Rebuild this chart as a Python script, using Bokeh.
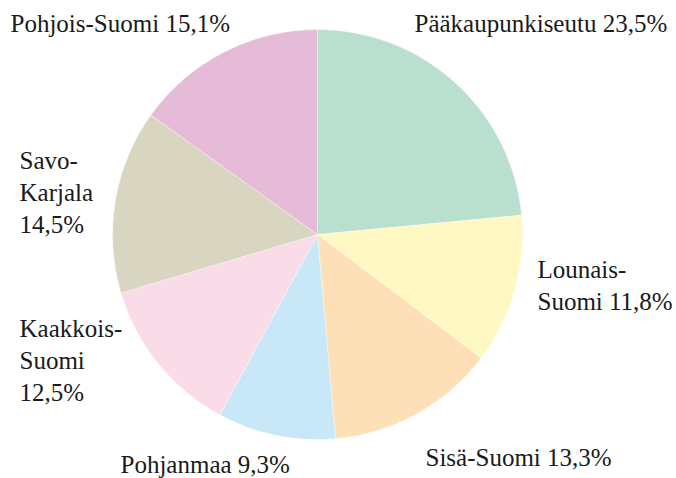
import math
from bokeh.plotting import figure
from bokeh.models import Range1d, ColumnDataSource
from bokeh.core.properties import value
from bokeh.embed import file_html
from bokeh.resources import INLINE

# ---- data ----
regions = ["Pääkaupunkiseutu", "Lounais-Suomi", "Sisä-Suomi", "Pohjanmaa",
           "Kaakkois-Suomi", "Savo-Karjala", "Pohjois-Suomi"]
shares = [23.5, 11.8, 13.3, 9.3, 12.5, 14.5, 15.1]
colors = ["#b9e0ce", "#fff8c3", "#fde0b7", "#c8e8f8", "#fadce8", "#d8d6c1", "#e5bbd7"]
# line-break style of each label: 0 one line, 1 break after hyphen, 2 break after hyphen and before number
label_breaks = [0, 1, 0, 0, 2, 2, 0]

# ---- layout (screen px of page) ----
W, H = 676, 478
OFF = 0
CX, CY = 317, 234          # pie centre on the page
R = 205
# label anchor: left x, first baseline y (page px), line step
label_pos = [(414, 33), (537, 279), (425, 467), (120, 474),
             (19, 338), (19, 170), (10, 33)]
BASE_FIX = 10              # renderer draws alphabetic baseline lower; compensate
LINE_STEP = 32
FONT = "Liberation Serif"
FONT_SIZE = "25px"

p = figure(width=W, height=H, output_backend="svg", toolbar_location=None,
           x_range=Range1d(OFF - CX, OFF + W - CX),
           y_range=Range1d(CY - (OFF + H), CY - OFF),
           min_border=0)
p.axis.visible = False
p.grid.visible = False
p.outline_line_color = None
p.background_fill_color = "white"
p.border_fill_color = "white"

total = sum(shares)
starts, ends = [], []
cum = 0.0
for s in shares:
    starts.append(math.pi / 2 - 2 * math.pi * cum / total)
    cum += s
    ends.append(math.pi / 2 - 2 * math.pi * cum / total)

src = ColumnDataSource(dict(x=[0] * len(shares), y=[0] * len(shares),
                            start=starts, end=ends, color=colors))
p.wedge(x="x", y="y", radius=R, start_angle="start", end_angle="end",
        direction="clock", fill_color="color", line_color="white",
        line_width=0.6, line_alpha=0.6, source=src)

def fmt(v):
    return ("%.1f" % v).replace(".", ",") + "%"

tx, ty, tt = [], [], []
for name, v, br, (lx, ly) in zip(regions, shares, label_breaks, label_pos):
    if br == 0:
        lines = [name + " " + fmt(v)]
    elif br == 1:
        a, b = name.split("-", 1)
        lines = [a + "-", b + " " + fmt(v)]
    else:
        a, b = name.split("-", 1)
        lines = [a + "-", b, fmt(v)]
    for i, ln in enumerate(lines):
        tx.append(lx - CX)
        ty.append(CY - (ly - BASE_FIX + i * LINE_STEP))
        tt.append(ln)

p.text(x=tx, y=ty, text=tt, text_font=value(FONT), text_font_size=FONT_SIZE,
       text_align="left", text_baseline="alphabetic", text_color="#1a1a1a")

open("out.html", "w").write(file_html(p, INLINE))
